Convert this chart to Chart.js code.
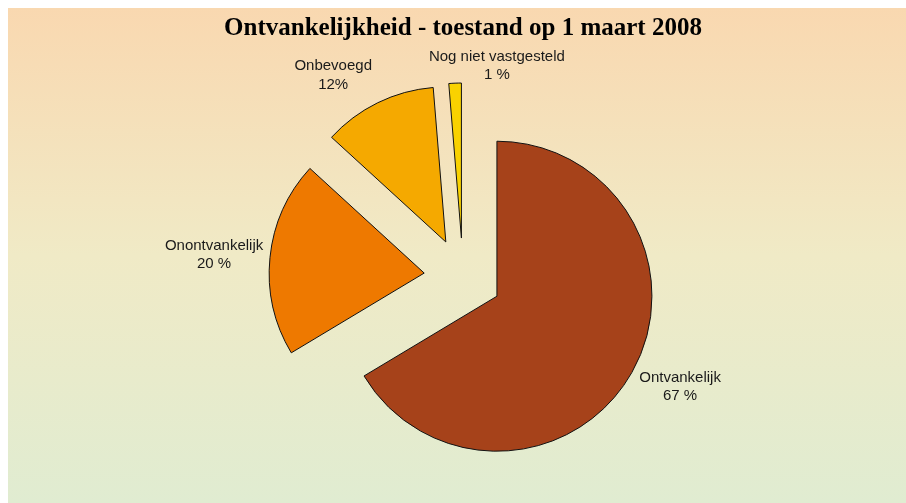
<!DOCTYPE html>
<html lang="nl">
<head>
  <meta charset="UTF-8">
  <title>Ontvankelijkheid - toestand op 1 maart 2008</title>
  <script src="https://cdn.jsdelivr.net/npm/chart.js"></script>
  <style>
    html, body { margin: 0; padding: 0; overflow: hidden; background: #fff; }
    #wrap {
      position: absolute; left: 8px; top: 8px; width: 898px; height: 495px;
      background: linear-gradient(to bottom, #F9D8B0 0%, #F0EAC6 50%, #E0ECD1 100%);
    }
  </style>
</head>
<body>
<div id="wrap"><canvas id="myChart"></canvas></div>

<script>
  const titleText = 'Ontvankelijkheid - toestand op 1 maart 2008';
  const categories = ['Ontvankelijk', 'Onontvankelijk', 'Onbevoegd', 'Nog niet vastgesteld'];
  const values = [66.4, 20.4, 11.9, 1.3];
  const pctLabels = ['67 %', '20 %', '12%', '1 %'];
  const sliceColors = ['#A6421A', '#EE7900', '#F5A900', '#F9D200'];

  // move every slice out along its bisector
  const explodePlugin = {
    id: 'explode',
    afterDatasetsUpdate(chart, args, opts) {
      chart.getDatasetMeta(0).data.forEach(arc => {
        const mid = (arc.startAngle + arc.endAngle) / 2;
        arc.x += Math.cos(mid) * opts.distance;
        arc.y += Math.sin(mid) * opts.distance;
      });
    }
  };

  // two-line labels outside each slice
  const labelPlugin = {
    id: 'sliceLabels',
    afterDatasetsDraw(chart, args, opts) {
      const ctx = chart.ctx;
      ctx.save();
      ctx.font = opts.font;
      ctx.fillStyle = opts.color;
      ctx.textAlign = 'center';
      ctx.textBaseline = 'middle';
      chart.getDatasetMeta(0).data.forEach((arc, i) => {
        const mid = (arc.startAngle + arc.endAngle) / 2;
        const dx = Math.cos(mid), dy = Math.sin(mid);
        const lines = [categories[i], pctLabels[i]];
        const w = Math.max(...lines.map(t => ctx.measureText(t).width));
        const h = lines.length * opts.lineHeight;
        const r = arc.outerRadius + opts.gap;
        const s = opts.shift[i] || [0, 0];
        const cx = arc.x + dx * r + dx * w / 2 + s[0];
        const cy = arc.y + dy * r + dy * h / 2 + s[1];
        lines.forEach((t, j) => {
          ctx.fillText(t, cx, cy + (j - (lines.length - 1) / 2) * opts.lineHeight);
        });
      });
      ctx.restore();
    }
  };

  const ctx = document.getElementById('myChart').getContext('2d');

  new Chart(ctx, {
    type: 'pie',
    data: {
      labels: categories,
      datasets: [{
        data: values,
        backgroundColor: sliceColors,
        borderColor: '#111',
        borderWidth: 1,
        radius: 155
      }]
    },
    options: {
      responsive: true,
      maintainAspectRatio: false,
      animation: false,
      events: [],
      layout: { padding: { left: 12, right: 0, top: 0, bottom: 0 } },
      plugins: {
        legend: { display: false },
        tooltip: { enabled: false },
        title: {
          display: true,
          text: titleText,
          color: '#000',
          font: { family: 'Liberation Serif', size: 25, weight: 'bold' },
          padding: { top: 6, bottom: 7 }
        },
        explode: { distance: 39 },
        sliceLabels: {
          font: '15px "Liberation Sans", Arial, sans-serif',
          color: '#1a1a1a',
          lineHeight: 18.5,
          gap: 10,
          shift: [[4, 0], [3, 0], [-23, -2], [45, 11]]
        }
      }
    },
    plugins: [explodePlugin, labelPlugin]
  });
</script>
</body>
</html>
